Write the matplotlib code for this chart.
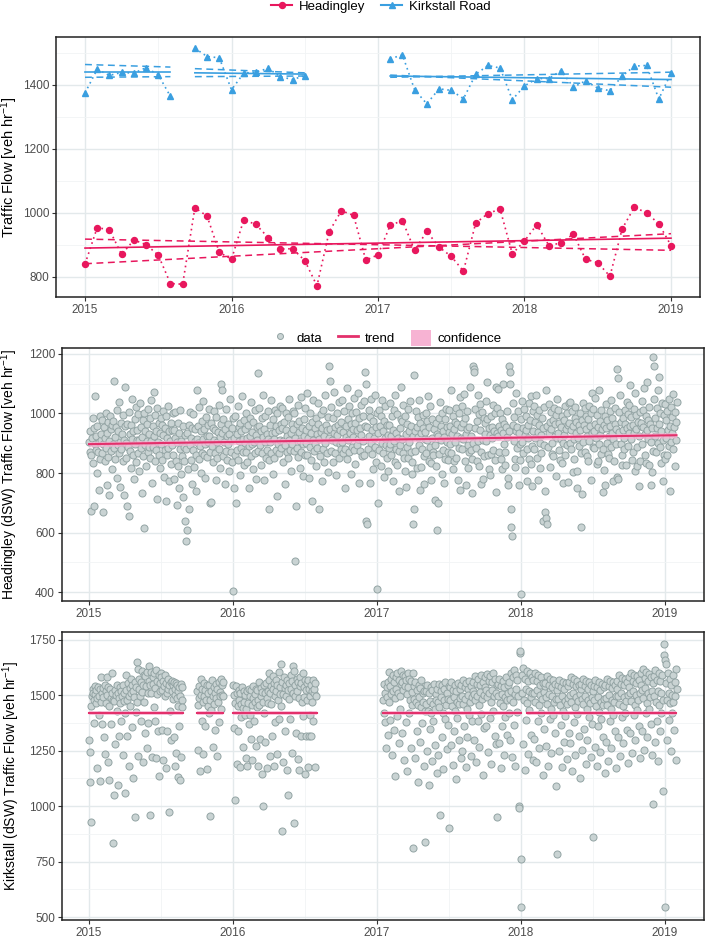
import numpy as np
import matplotlib
matplotlib.use('Agg')
import matplotlib.pyplot as plt
from matplotlib.lines import Line2D
from matplotlib.patches import Patch
from matplotlib.ticker import MultipleLocator, FixedLocator

plt.rcParams['font.family'] = ['Liberation Sans', 'DejaVu Sans']
plt.rcParams['mathtext.default'] = 'regular'

# ---------------- data: top panel (monthly means, Jan 2015 .. Jan 2019) -------------
year_ticks = [2015, 2016, 2017, 2018, 2019]
nan = np.nan
hd_monthly = [840, 954, 947, 870, 915, 901, 868, 779, 777, 1016, 990, 877,
              855, 978, 964, 923, 887, 888, 851, 772, 941, 1007, 992, 852,
              869, 961, 976, 883, 942, 893, 864, 818, 968, 998, 1012, 872,
              912, 963, 898, 906, 934, 855, 844, 802, 950, 1018, 1000, 966,
              898]
kr_monthly = [1375, 1449, 1430, 1439, 1437, 1454, 1432, 1364, nan, 1515, 1489, 1485,
              1385, 1437, 1440, 1452, 1426, 1417, 1429, nan, nan, nan, nan, nan,
              nan, 1482, 1494, 1385, 1341, 1388, 1383, 1357, 1433, 1461, 1453, 1354,
              1397, 1420, 1420, 1445, 1393, 1413, 1390, 1382, 1428, 1459, 1461, 1356,
              1437]

# trend / confidence lines (start, end)
hd_trend_x = [2015.0, 2019.0]
hd_trend = [890, 921]
hd_ci_a = [918, 883]
hd_ci_b = [841, 935]

kr_trend_x = [(2015.0, 2015.583), (2015.75, 2016.5), (2017.083, 2019.0)]
kr_trend = [(1441, 1441), (1438, 1434), (1428, 1417)]
kr_ci_a = [(1464, 1456), (1451, 1438), (1431, 1393)]
kr_ci_b = [(1424, 1426), (1426, 1428), (1424, 1440)]

# ---------------- data: Headingley dSW daily values, grouped per month -------------
hd_2015 = [
 [905, 872, 940, 672, 860, 918, 985, 833, 690, 952, 896, 1060, 878, 925, 801, 958, 870, 742, 905, 990, 846, 912],
 [930, 868, 979, 898, 668, 955, 842, 917, 1003, 884, 760, 935, 970, 853, 908, 726, 991, 875, 948, 812, 962, 897],
 [975, 884, 1110, 921, 846, 956, 783, 1012, 893, 940, 868, 1038, 905, 752, 967, 879, 930, 994, 842, 911, 726, 958],
 [1090, 902, 850, 690, 965, 887, 655, 1004, 932, 874, 960, 818, 915, 1048, 862, 940, 781, 982, 896, 838, 1021, 910],
 [945, 868, 997, 912, 806, 1036, 883, 954, 734, 921, 978, 857, 614, 1002, 894, 940, 823, 966, 908, 872, 1015, 889],
 [930, 986, 852, 1045, 907, 768, 958, 889, 1072, 924, 841, 995, 876, 942, 712, 1018, 903, 862, 967, 936, 817, 985],
 [898, 962, 845, 1010, 927, 788, 951, 876, 705, 993, 918, 862, 1025, 884, 940, 772, 908, 969, 831, 946, 893, 1002],
 [862, 944, 781, 918, 1005, 840, 692, 903, 967, 823, 748, 935, 880, 1012, 796, 906, 856, 958, 721, 889, 840, 927],
 [640, 880, 570, 610, 935, 812, 960, 680, 893, 1004, 845, 918, 764, 952, 877, 998, 821, 906, 947, 862, 738, 915],
 [1080, 902, 958, 846, 1021, 892, 940, 800, 976, 868, 915, 1042, 861, 949, 899, 782, 987, 926, 855, 960, 905, 1015],
 [925, 700, 872, 968, 703, 890, 951, 836, 1009, 912, 866, 944, 775, 987, 903, 852, 939, 1030, 882, 921, 818, 963],
 [1100, 1080, 936, 858, 981, 903, 762, 947, 875, 1016, 924, 843, 899, 965, 808, 932, 1048, 871, 910, 952, 837, 986],
]
hd_2016 = [
 [405, 750, 918, 862, 990, 700, 931, 877, 1024, 845, 956, 906, 793, 968, 883, 942, 1058, 869, 915, 826, 978, 901],
 [947, 871, 1003, 918, 836, 962, 890, 748, 985, 924, 858, 1040, 899, 937, 812, 971, 905, 866, 1012, 928, 780, 953],
 [912, 1136, 874, 958, 1018, 893, 826, 940, 984, 866, 1062, 921, 775, 948, 903, 992, 851, 932, 877, 1007, 915, 843],
 [680, 962, 905, 1045, 868, 936, 797, 983, 914, 852, 1012, 939, 877, 958, 723, 1001, 896, 944, 868, 1026, 912, 965],
 [883, 952, 1018, 907, 838, 971, 894, 762, 945, 1003, 872, 926, 989, 851, 910, 1048, 878, 933, 807, 964, 899, 1010],
 [948, 873, 1002, 505, 919, 690, 965, 884, 1030, 853, 938, 976, 818, 907, 1055, 869, 951, 896, 789, 982, 925, 862],
 [1020, 901, 946, 862, 1068, 918, 783, 957, 889, 1001, 843, 934, 972, 705, 911, 1046, 875, 952, 897, 823, 985, 930],
 [885, 966, 1034, 680, 914, 858, 997, 938, 772, 952, 1012, 879, 923, 836, 1061, 902, 960, 867, 944, 805, 989, 918],
 [1160, 1110, 948, 874, 1023, 911, 838, 985, 936, 1072, 868, 954, 903, 792, 1002, 927, 961, 850, 1040, 896, 945, 881],
 [973, 903, 1046, 866, 937, 1008, 882, 750, 958, 921, 1085, 847, 980, 912, 869, 1024, 936, 797, 963, 1001, 888, 948],
 [922, 1052, 877, 968, 830, 1004, 945, 893, 1070, 913, 765, 986, 952, 874, 1030, 929, 857, 992, 908, 1041, 862, 958],
 [1140, 1100, 640, 630, 956, 881, 1012, 925, 767, 989, 902, 1048, 864, 943, 812, 976, 918, 1063, 887, 953, 838, 1002],
]
hd_2017 = [
 [410, 700, 934, 876, 1011, 958, 823, 990, 902, 1045, 868, 941, 976, 785, 918, 1024, 893, 962, 851, 806, 927, 884],
 [962, 897, 1036, 925, 859, 991, 944, 772, 1012, 906, 837, 1063, 881, 935, 826, 998, 919, 875, 741, 952, 894, 980],
 [1090, 915, 976, 868, 1027, 849, 807, 992, 931, 752, 886, 963, 1015, 852, 940, 905, 1043, 871, 958, 797, 836, 924],
 [630, 680, 1130, 942, 874, 1008, 956, 818, 987, 921, 1046, 893, 969, 744, 934, 819, 882, 951, 996, 858, 762, 913],
 [938, 1001, 866, 975, 912, 1058, 842, 956, 889, 1024, 835, 776, 983, 918, 871, 862, 947, 709, 894, 825, 968, 930],
 [610, 700, 924, 985, 863, 1037, 912, 958, 797, 1002, 941, 876, 768, 920, 983, 848, 1014, 903, 956, 872, 845, 937],
 [1012, 897, 958, 1080, 868, 931, 993, 815, 947, 840, 903, 972, 852, 1019, 926, 963, 778, 1002, 884, 744, 1057, 917],
 [953, 1024, 880, 968, 915, 1066, 839, 984, 932, 760, 1007, 947, 893, 818, 956, 871, 1088, 925, 878, 846, 733, 902],
 [1160, 1150, 1140, 952, 1016, 883, 974, 839, 1062, 908, 825, 997, 945, 1031, 870, 762, 1004, 912, 779, 858, 986, 931],
 [968, 1042, 907, 983, 1105, 861, 950, 812, 928, 795, 990, 864, 917, 954, 878, 1027, 942, 1001, 843, 735, 1090, 936],
 [1020, 924, 1083, 958, 871, 1002, 946, 847, 812, 981, 935, 1100, 897, 964, 828, 872, 953, 1009, 922, 784, 761, 940],
 [1160, 1140, 1100, 620, 680, 590, 962, 1034, 908, 987, 847, 819, 941, 1070, 885, 956, 1008, 761, 934, 845, 899, 395],
]
hd_2018 = [
 [982, 905, 1043, 866, 951, 1016, 927, 809, 993, 944, 772, 881, 962, 918, 1035, 847, 978, 830, 1059, 892, 755, 1008],
 [942, 1026, 881, 973, 916, 1062, 850, 995, 938, 777, 1013, 961, 902, 817, 927, 866, 986, 640, 950, 1021, 894, 738],
 [670, 1080, 650, 630, 958, 887, 1031, 934, 972, 819, 1004, 948, 865, 901, 979, 857, 1019, 926, 963, 791, 996, 918],
 [1050, 936, 1012, 877, 968, 843, 915, 953, 834, 991, 766, 902, 977, 929, 1025, 861, 948, 1002, 893, 960, 769, 1034],
 [968, 902, 1039, 943, 880, 1010, 957, 804, 915, 848, 986, 1021, 934, 970, 806, 748, 919, 962, 891, 1003, 944, 868],
 [620, 730, 978, 1035, 905, 962, 1017, 871, 948, 993, 858, 923, 842, 981, 1026, 908, 959, 776, 1002, 936, 1069, 887],
 [1014, 942, 883, 1052, 966, 917, 996, 831, 840, 953, 898, 1078, 927, 975, 863, 1011, 949, 736, 882, 960, 810, 990],
 [760, 952, 1031, 902, 978, 863, 924, 850, 1008, 957, 887, 1045, 936, 984, 915, 772, 841, 966, 1019, 896, 948, 788],
 [1150, 1120, 780, 1004, 938, 1061, 897, 973, 828, 859, 985, 946, 882, 918, 1013, 966, 827, 1040, 952, 891, 999, 935],
 [1030, 958, 1097, 913, 987, 844, 872, 962, 1015, 935, 806, 1070, 949, 996, 889, 823, 971, 758, 925, 842, 1006, 957],
 [968, 1041, 897, 1012, 955, 1084, 931, 862, 990, 835, 946, 1107, 914, 977, 828, 1022, 963, 760, 905, 951, 803, 873],
 [1190, 1160, 1047, 926, 985, 869, 1018, 950, 1078, 902, 963, 1124, 887, 1001, 941, 835, 1036, 772, 910, 860, 995, 848],
]
hd_2019 = [
 [1032, 918, 977, 861, 1009, 944, 892, 1050, 958, 740, 1021, 903, 987, 935, 1064, 879, 953, 1005, 824, 970, 912, 1040],
]
hd_dsw_trend_x = [2015.0, 2019.08]
hd_dsw_trend = [897, 927]
hd_dsw_halfwidth = 9

# ---------------- data: Kirkstall dSW daily values, grouped per month -------------
kr_2015 = [
 [1300, 1245, 1110, 930, 1450, 1495, 1530, 1512, 1478, 1375, 1540, 1505, 1463, 1522, 1172, 1488, 1536, 1410, 1497, 1526, 1113, 1470],
 [1580, 1508, 1372, 1532, 1490, 1310, 1545, 1236, 1518, 1467, 1580, 1502, 1200, 1535, 1451, 1120, 1529, 1489, 1370, 1598, 1512, 1478],
 [833, 1050, 1476, 1522, 1278, 1503, 1545, 1430, 1095, 1512, 1488, 1318, 1537, 1466, 1520, 1382, 1498, 1545, 1232, 1473, 1508, 1422],
 [1060, 1590, 1525, 1480, 1316, 1553, 1495, 1180, 1532, 1450, 1574, 1508, 1355, 1545, 1126, 1520, 1490, 950, 1558, 1425, 1536, 1470],
 [1648, 1620, 1228, 1530, 1575, 1497, 1382, 1560, 1610, 1515, 1198, 1548, 1592, 1470, 1330, 1585, 1542, 1262, 1605, 1512, 1375, 1566],
 [1630, 960, 1545, 1605, 1512, 1220, 1580, 1550, 1448, 1598, 1385, 1532, 1612, 1215, 1565, 1505, 1340, 1590, 1138, 1556, 1520, 1600],
 [1580, 1522, 1345, 1566, 1210, 1540, 1590, 1497, 1170, 1553, 1512, 1338, 1575, 1530, 975, 1548, 1428, 1560, 1296, 1518, 1565, 1482],
 [1545, 1310, 1560, 1502, 1180, 1530, 1555, 1240, 1488, 1548, 1132, 1520, 1452, 1360, 1538, 1117, 1495, 1552, 1220, 1480, 1535, 1445],
 [],
 [1520, 1455, 1255, 1540, 1488, 1160, 1575, 1502, 1385, 1530, 1470, 1235, 1555, 1495, 1360, 1522, 1480, 1168, 1548, 1450, 1512, 1420],
 [1545, 1478, 954, 1520, 1432, 1570, 1498, 1265, 1535, 1462, 1508, 1345, 1552, 1487, 1225, 1528, 1470, 1560, 1380, 1515, 1495, 1440],
 [1572, 1545, 1500, 1560, 1498],
]
kr_2016 = [
 [1548, 1500, 1352, 1030, 1466, 1540, 1190, 1508, 1452, 1338, 1525, 1480, 1178, 1512, 1460, 1403, 1535, 1442, 1265, 1518, 1470, 1410],
 [1500, 1440, 1215, 1180, 1518, 1465, 1372, 1530, 1412, 1496, 1305, 1522, 1458, 1210, 1486, 1540, 1384, 1470, 1505, 1270, 1528, 1445],
 [1525, 1480, 1180, 1560, 1455, 1302, 1532, 1498, 1145, 1515, 1470, 1000, 1545, 1420, 1510, 1290, 1553, 1488, 1172, 1520, 1465, 1600],
 [1570, 1510, 1225, 1542, 1462, 1318, 1585, 1530, 1180, 1555, 1498, 1380, 1568, 1520, 1235, 1548, 1480, 1605, 1395, 1538, 1505, 1450],
 [1640, 889, 1560, 1505, 1200, 1580, 1532, 1340, 1545, 1498, 1165, 1570, 1522, 1050, 1555, 1485, 1395, 1590, 1528, 1238, 1562, 1510],
 [1630, 1610, 924, 1548, 1495, 1330, 1575, 1520, 1212, 1560, 1488, 1165, 1582, 1540, 1315, 1556, 1470, 1600, 1405, 1535, 1490, 1146],
 [1570, 1525, 1315, 1555, 1480, 1175, 1570, 1318, 1530, 1498, 1412, 1545, 1315, 1520, 1470, 1568, 1382, 1510, 1530, 1178, 1555, 1495],
 [], [], [], [], [],
]
kr_2017 = [
 [1480, 1420, 1550, 1380, 1512, 1260, 1535, 1490, 1320, 1560, 1470],
 [1605, 1540, 1390, 1575, 1505, 1230, 1590, 1520, 1345, 1560, 1488, 1135, 1582, 1530, 1405, 1600, 1512, 1285, 1568, 1495, 1440, 1550],
 [1610, 1560, 1330, 1590, 1522, 1210, 1585, 1540, 1378, 1570, 1505, 1160, 1598, 1535, 1420, 1575, 1480, 1260, 1562, 1515, 1455, 1600],
 [810, 1540, 1485, 1215, 1560, 1470, 1340, 1525, 1455, 1110, 1548, 1492, 1288, 1532, 1445, 1570, 1375, 1508, 1470, 1180, 1520, 1430],
 [840, 1520, 1462, 1250, 1545, 1430, 1096, 1510, 1475, 1350, 1538, 1418, 1202, 1525, 1460, 1385, 1550, 1440, 1275, 1505, 1480, 1150],
 [1530, 1470, 1232, 1552, 1445, 960, 1518, 1490, 1310, 1545, 1422, 1168, 1530, 1478, 1395, 1560, 1455, 1256, 1512, 1485, 1365, 1540],
 [900, 1535, 1480, 1275, 1560, 1450, 1185, 1525, 1492, 1340, 1548, 1430, 1122, 1518, 1470, 1398, 1555, 1462, 1300, 1530, 1488, 1215],
 [1545, 1495, 1250, 1570, 1460, 1360, 1538, 1482, 1175, 1555, 1440, 1310, 1528, 1502, 1410, 1562, 1470, 1228, 1540, 1490, 1385, 1520],
 [1560, 1505, 1300, 1585, 1478, 1200, 1550, 1495, 1385, 1572, 1455, 1268, 1545, 1515, 1415, 1590, 1482, 1142, 1560, 1500, 1352, 1535],
 [1580, 1525, 1360, 1595, 1490, 1245, 1565, 1510, 1398, 1585, 1470, 1190, 1558, 1522, 1430, 1600, 1495, 1315, 1572, 1508, 1282, 1548],
 [950, 1550, 1498, 1285, 1572, 1465, 1170, 1540, 1505, 1362, 1565, 1450, 1230, 1535, 1492, 1402, 1582, 1478, 1320, 1548, 1510, 1420],
 [1560, 1485, 1300, 1600, 1520, 1220, 1580, 1470, 1365, 1615, 1505, 1180, 1590, 1530, 1425, 1570, 1495, 1000, 990, 1690, 1700, 545],
]
kr_2018 = [
 [760, 1590, 1512, 1280, 1625, 1480, 1165, 1575, 1530, 1390, 1610, 1465, 1235, 1565, 1520, 1435, 1600, 1492, 1320, 1580, 1508, 1210],
 [1570, 1510, 1305, 1598, 1470, 1200, 1562, 1525, 1382, 1590, 1455, 1260, 1545, 1500, 1420, 1580, 1482, 1140, 1555, 1515, 1350, 1540],
 [1555, 1490, 1270, 1585, 1462, 1180, 1548, 1505, 1395, 1575, 1440, 1240, 1535, 1498, 1410, 1568, 1470, 1330, 1550, 1485, 1090, 1525],
 [785, 1545, 1482, 1250, 1570, 1455, 1365, 1538, 1495, 1175, 1560, 1430, 1290, 1528, 1472, 1405, 1555, 1460, 1212, 1540, 1488, 1330],
 [1560, 1500, 1285, 1580, 1468, 1160, 1550, 1512, 1378, 1572, 1445, 1230, 1540, 1490, 1415, 1565, 1475, 1318, 1548, 1505, 1128, 1530],
 [1550, 1485, 1255, 1575, 1460, 1350, 1542, 1498, 1190, 1565, 1438, 1300, 1530, 1480, 1402, 1558, 1465, 1220, 1545, 1492, 1370, 1520],
 [860, 1540, 1478, 1265, 1568, 1450, 1180, 1535, 1490, 1360, 1560, 1425, 1245, 1525, 1470, 1395, 1552, 1458, 1310, 1538, 1485, 1150],
 [1545, 1488, 1290, 1572, 1455, 1205, 1540, 1500, 1385, 1565, 1440, 1262, 1532, 1478, 1412, 1560, 1468, 1338, 1548, 1495, 1170, 1528],
 [1565, 1498, 1310, 1590, 1462, 1225, 1552, 1508, 1400, 1578, 1450, 1285, 1545, 1490, 1420, 1575, 1472, 1345, 1560, 1500, 1195, 1538],
 [1580, 1512, 1330, 1600, 1475, 1240, 1565, 1520, 1410, 1590, 1458, 1300, 1555, 1502, 1432, 1585, 1480, 1360, 1570, 1510, 1215, 1548],
 [1600, 1525, 1340, 1620, 1488, 1255, 1578, 1532, 1418, 1605, 1465, 1310, 1565, 1510, 1440, 1595, 1492, 1372, 1582, 1520, 1230, 1555],
 [1010, 1585, 1495, 1290, 1615, 1470, 1385, 1570, 1520, 1205, 1600, 1455, 1340, 1562, 1510, 1420, 1590, 1480, 1070, 1680, 1730, 545],
]
kr_2019 = [
 [1660, 1640, 1555, 1480, 1300, 1600, 1510, 1390, 1575, 1465, 1250, 1545, 1500, 1420, 1590, 1470, 1345, 1560, 1495, 1210, 1620, 1530],
]
# share of a month that holds data, for months only partly covered
kr_cover = {(2015, 8): (0.0, 0.8), (2015, 12): (0.0, 0.2), (2016, 7): (0.0, 0.9), (2017, 1): (0.5, 1.0)}
kr_dsw_trend_x = [(2015.0, 2015.65), (2015.75, 2015.93), (2016.0, 2016.58), (2017.04, 2018.0), (2018.04, 2019.08)]
kr_dsw_trend = 1420
kr_dsw_halfwidth = 9

# ---------------- helpers -------------
RED = '#E8175D'
BLUE = '#3A9FE0'
TREND = '#E3306B'
BAND = '#F7B3D3'
PT_FACE = '#C9D3D3'
PT_EDGE = '#93A4A4'
GRID_MAJ = '#E3E9EB'
GRID_MIN = '#F1F4F5'


def month_points(year_blocks, cover=None):
    xs, ys = [], []
    for year, months in year_blocks:
        for m, vals in enumerate(months):
            n = len(vals)
            if n == 0:
                continue
            c0, c1 = (cover or {}).get((year, m + 1), (0.0, 1.0))
            frac = c0 + (np.arange(n) + 0.5) / n * (c1 - c0)
            xs.extend(year + (m + frac) / 12.0)
            ys.extend(vals)
    return np.array(xs), np.array(ys)


def style_axes(ax, ymaj, ymin_loc):
    ax.set_facecolor('white')
    ax.xaxis.set_major_locator(FixedLocator(year_ticks))
    ax.xaxis.set_minor_locator(MultipleLocator(0.5))
    ax.yaxis.set_major_locator(MultipleLocator(ymaj))
    ax.yaxis.set_minor_locator(MultipleLocator(ymin_loc))
    ax.grid(which='major', color=GRID_MAJ, lw=1.0, zorder=0)
    ax.grid(which='minor', color=GRID_MIN, lw=0.6, zorder=0)
    ax.set_axisbelow(True)
    for s in ax.spines.values():
        s.set_color('#222222')
        s.set_linewidth(1.1)
    ax.tick_params(which='major', length=3, width=0.8, color='#333333',
                   labelsize=8.5, labelcolor='#4D4D4D', pad=2)
    ax.tick_params(which='minor', length=0)
    ax.set_xticklabels([str(y) for y in year_ticks])


fig = plt.figure(figsize=(7.09, 9.41), dpi=100)
W, H = 709.0, 941.0


def px_axes(left, top, right, bottom):
    return fig.add_axes([left / W, 1 - bottom / H, (right - left) / W, (bottom - top) / H])


def place_ylabel(ax, text, right_px, left_px, width_px, size=10):
    ax.set_ylabel(text, fontsize=size, color='black')
    ax.yaxis.set_label_coords((right_px - left_px) / width_px, 0.5)

# ---------------- top panel -------------
ax1 = px_axes(56, 37, 700, 297)
mx = 2015 + np.arange(len(hd_monthly)) / 12.0
ax1.plot(mx, hd_monthly, color=RED, ls=(0, (1, 2.2)), lw=1.2, marker='o', ms=4.3, zorder=3)
ax1.plot(mx, kr_monthly, color=BLUE, ls=(0, (1, 2.2)), lw=1.2, marker='^', ms=5, zorder=3)
dash = (0, (4.5, 3))
ax1.plot(hd_trend_x, hd_trend, color=RED, lw=1.2, zorder=4)
ax1.plot(hd_trend_x, hd_ci_a, color=RED, lw=1.1, ls=dash, zorder=4)
ax1.plot(hd_trend_x, hd_ci_b, color=RED, lw=1.1, ls=dash, zorder=4)
for xs, t, a, b in zip(kr_trend_x, kr_trend, kr_ci_a, kr_ci_b):
    ax1.plot(xs, t, color=BLUE, lw=1.2, zorder=4)
    ax1.plot(xs, a, color=BLUE, lw=1.1, ls=dash, zorder=4)
    ax1.plot(xs, b, color=BLUE, lw=1.1, ls=dash, zorder=4)
style_axes(ax1, 200, 100)
ax1.set_xlim(2014.802, 2019.198)
ax1.set_ylim(737, 1550)
place_ylabel(ax1, 'Traffic Flow [veh hr$^{-1}$]', 20, 56, 644, size=10.5)

h1 = [Line2D([], [], color=RED, marker='o', ms=4.3, lw=1.5),
      Line2D([], [], color=BLUE, marker='^', ms=5, lw=1.5)]
fig.legend(h1, ['Headingley', 'Kirkstall Road'], loc='center',
           bbox_to_anchor=(381 / W, 1 - 7 / H), ncol=2, frameon=False, fontsize=9.5,
           handlelength=1.6, columnspacing=1.2, handletextpad=0.5)

# ---------------- middle panel -------------
ax2 = px_axes(62, 348, 704, 601)
hx, hy = month_points([(2015, hd_2015), (2016, hd_2016), (2017, hd_2017), (2018, hd_2018), (2019, hd_2019)])
ax2.scatter(hx, hy, s=26, facecolor=PT_FACE, edgecolor=PT_EDGE, linewidths=0.7, zorder=2)
lo = [v - hd_dsw_halfwidth for v in hd_dsw_trend]
hi = [v + hd_dsw_halfwidth for v in hd_dsw_trend]
ax2.fill_between(hd_dsw_trend_x, lo, hi, color=BAND, alpha=0.75, lw=0, zorder=3)
ax2.plot(hd_dsw_trend_x, hd_dsw_trend, color=TREND, lw=1.5, zorder=4)
style_axes(ax2, 200, 100)
ax2.set_xlim(2014.8125, 2019.271)
ax2.set_ylim(370, 1220)
place_ylabel(ax2, 'Headingley (dSW) Traffic Flow [veh hr$^{-1}$]', 20, 62, 642, size=10)

h2 = [Line2D([], [], ls='none', marker='o', ms=4.3, mfc=PT_FACE, mec=PT_EDGE, mew=0.7),
      Line2D([], [], color=TREND, lw=2),
      Patch(facecolor=BAND, edgecolor='none')]
fig.legend(h2, ['data', 'trend', 'confidence'], loc='center',
           bbox_to_anchor=(386 / W, 1 - 338 / H), ncol=3, frameon=False, fontsize=9.5,
           handlelength=1.5, handleheight=1.4, columnspacing=1.2, handletextpad=0.5)

# ---------------- bottom panel -------------
ax3 = px_axes(62, 632, 704, 920)
kx, ky = month_points([(2015, kr_2015), (2016, kr_2016), (2017, kr_2017), (2018, kr_2018), (2019, kr_2019)],
                      cover=kr_cover)
ax3.scatter(kx, ky, s=26, facecolor=PT_FACE, edgecolor=PT_EDGE, linewidths=0.7, zorder=2)
for xs in kr_dsw_trend_x:
    ax3.fill_between(xs, [kr_dsw_trend - kr_dsw_halfwidth] * 2, [kr_dsw_trend + kr_dsw_halfwidth] * 2,
                     color=BAND, alpha=0.75, lw=0, zorder=3)
    ax3.plot(xs, [kr_dsw_trend] * 2, color=TREND, lw=1.5, zorder=4)
style_axes(ax3, 250, 125)
ax3.set_xlim(2014.8125, 2019.271)
ax3.set_ylim(487, 1785)
place_ylabel(ax3, 'Kirkstall (dSW) Traffic Flow [veh hr$^{-1}$]', 22, 62, 642, size=10)

fig.savefig('out.png', dpi=100, facecolor='white')
